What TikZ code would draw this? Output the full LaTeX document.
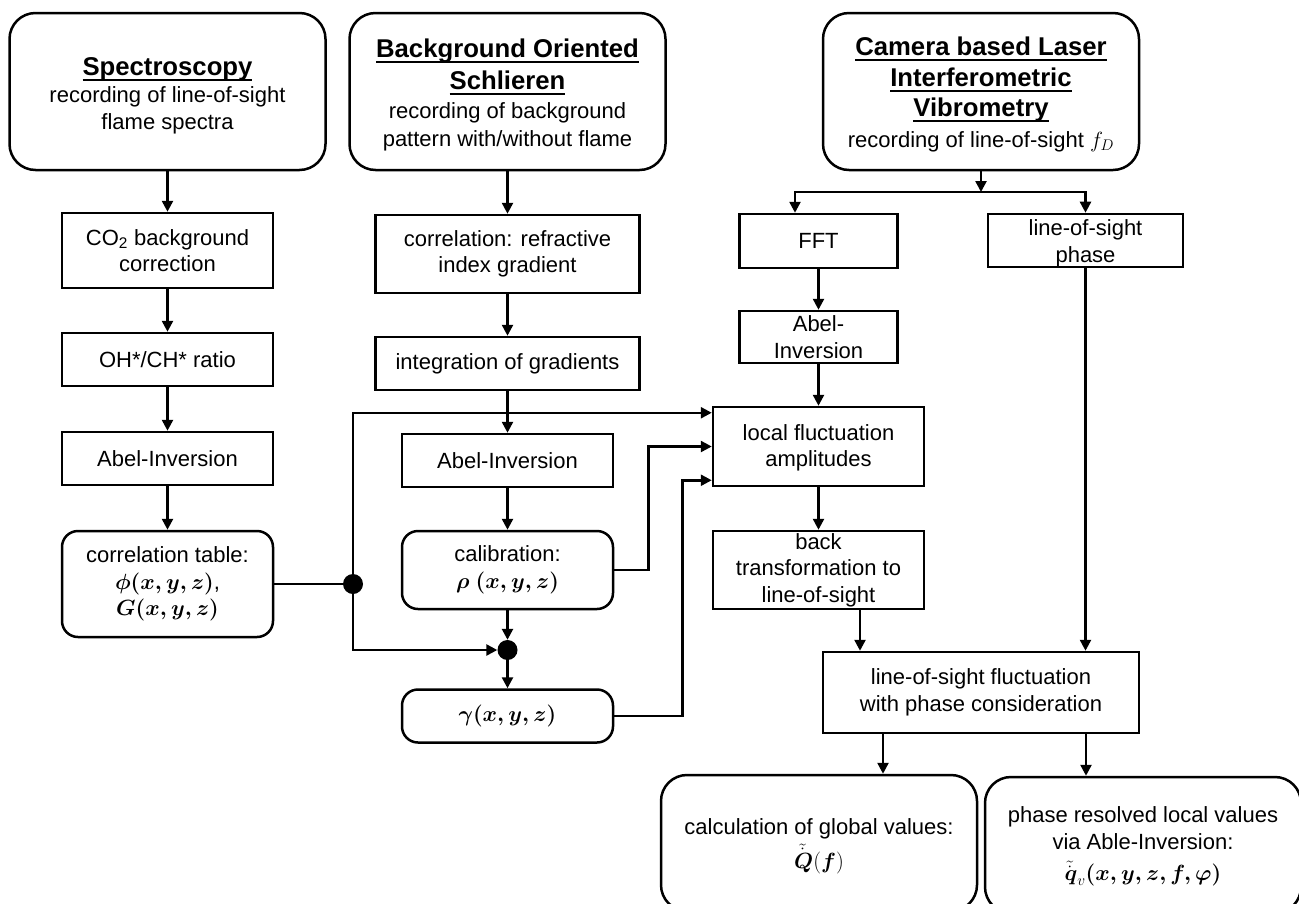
\RequirePackage{fix-cm}
\documentclass[tikz,border=0pt]{standalone}
\usepackage{amsmath}
\usepackage[no-math]{fontspec}
\setmainfont{Liberation Sans}
\usetikzlibrary{arrows.meta,positioning,calc}

\newcommand{\boxtitle}[1]{{\fontsize{25.7}{31}\selectfont\bfseries\setbox0=\hbox{#1}\rlap{\rule[-5.5pt]{\wd0}{2pt}}\box0}}
\newcommand{\lift}[1]{\rule{0pt}{#1}}

\begin{document}
\begin{tikzpicture}[x=1pt,y=-1pt,
  >={Triangle[length=11pt,width=11pt]},
  every node/.style={font=\fontsize{22}{26.5}\selectfont, align=center, inner sep=0pt},
  stepbox/.style={draw, line width=2.5pt, minimum width=211pt, minimum height=53pt},
  roundbox/.style={stepbox, rounded corners=16pt},
  topbox/.style={draw, line width=2.5pt, rounded corners=26pt, minimum width=316pt, minimum height=157pt},
  joint/.style={circle, fill, minimum size=20pt},
  line/.style={line width=2.5pt}]
\useasboundingbox (0,0) rectangle (1299,903);
\clip (0,0) rectangle (1299,903);

% measurement methods
\node[topbox] (spec) at (167.5,91.5) {\lift{26pt}\boxtitle{Spectroscopy}\\[1pt] recording of line-of-sight\\ flame spectra};
\node[topbox] (bos) at (507.5,91.5) {\lift{26pt}\boxtitle{Background Oriented}\\[5pt] \boxtitle{Schlieren}\\[3pt] recording of background\\[1pt] pattern with/without flame};
\node[topbox] (cliv) at (981,91.5) {\lift{25pt}\boxtitle{Camera based Laser}\\[4pt] \boxtitle{Interferometric}\\[4pt] \boxtitle{Vibrometry}\\[4pt] recording of line-of-sight $f_D$};

% spectroscopy chain
\node[stepbox, minimum height=75pt] (co2) at (167.5,250.5) {CO\textsubscript{2} background\\ correction};
\node[stepbox] (ratio) at (167.5,359.5) {OH*/CH* ratio};
\node[stepbox] (abelA) at (167.5,458.5) {Abel-Inversion};
\node[roundbox, minimum height=106pt] (table) at (167.5,584) {correlation table:\\ $\boldsymbol{\phi(x,y,z)}$,\\ $\boldsymbol{G(x,y,z)}$};
\node[joint] (branch) at (353,584) {};

% BOS chain
\node[stepbox, minimum width=264pt, minimum height=78pt] (gradient) at (507.5,254) {correlation: refractive\\ index gradient};
\node[stepbox, minimum width=264pt] (integ) at (507.5,363.5) {integration of gradients};
\node[stepbox] (abelB) at (507.5,460.5) {Abel-Inversion};
\node[roundbox, minimum height=78pt] (calib) at (507.5,570) {calibration:\\ $\boldsymbol{\rho}\ \boldsymbol{(x,y,z)}$};
\node[joint] (mix) at (507.5,650) {};
\node[roundbox] (gamma) at (507.5,716) {$\boldsymbol{\gamma(x,y,z)}$};

% vibrometry chain
\coordinate (split) at (981,192);
\node[stepbox, minimum width=158pt, minimum height=54pt] (fft) at (818.5,241) {FFT};
\node[stepbox, minimum width=195pt] (phase) at (1085.5,240.5) {\lift{22pt}line-of-sight\\ phase};
\node[stepbox, minimum width=158pt, minimum height=52pt] (abelC) at (818.5,337) {Abel-\\ Inversion};
\node[stepbox, minimum height=79pt] (amp) at (818.5,446.5) {\lift{19pt}local fluctuation\\ amplitudes};
\node[stepbox, minimum height=78pt] (back) at (818.5,570) {back\\ transformation to\\ line-of-sight};
\node[stepbox, minimum width=316pt, minimum height=81pt] (losfl) at (981,692.5) {line-of-sight fluctuation\\ with phase consideration};
\node[topbox, minimum height=136pt] (glob) at (819,843) {\lift{22pt}calculation of global values:\\[4pt] $\tilde{\dot{\boldsymbol{Q}}}(\boldsymbol{f})$};
\node[topbox, minimum height=136pt] (loc) at (1143,845) {\lift{19pt}phase resolved local values\\ via Able-Inversion:\\[5pt] $\tilde{\dot{\boldsymbol{q}}}_{v}\boldsymbol{(x,y,z,f,\varphi)}$};

% connectors
\draw[line,->] (spec) -- (co2);
\draw[line,->] (co2) -- (ratio);
\draw[line,->] (ratio) -- (abelA);
\draw[line,->] (abelA) -- (table);
\draw[line] (table) -- (branch);
\draw[line,->] (branch) |- ([yshift=-7pt]amp.north west);
\draw[line,->] (branch) |- (mix);

\draw[line,->] (bos) -- (gradient);
\draw[line,->] (gradient) -- (integ);
\draw[line,->] (integ) -- (abelB);
\draw[line,->] (abelB) -- (calib);
\draw[line,->] (calib) -- (mix);
\draw[line,->] (mix) -- (gamma);
\draw[line,->] (calib.east) -- ++(34,0) |- (amp.west);
\draw[line,->] (gamma.east) -- ++(68,0) |- ([yshift=7pt]amp.south west);

\draw[line,->] (cliv) -- (split);
\draw[line,->] (split) -| ([xshift=-23.5pt]fft.north);
\draw[line,->] (split) -| (phase);
\draw[line,->] (fft) -- (abelC);
\draw[line,->] (abelC) -- (amp);
\draw[line,->] (amp) -- (back);
\coordinate (bk) at ([xshift=41.5pt]back.south);
\draw[line,->] (bk) -- (bk |- losfl.north);
\draw[line,->] (phase) -- (phase |- losfl.north);
\coordinate (lo1) at ([xshift=-98pt]losfl.south);
\coordinate (lo2) at ([xshift=105pt]losfl.south);
\draw[line,->] (lo1) -- (lo1 |- glob.north);
\draw[line,->] (lo2) -- (lo2 |- loc.north);
\end{tikzpicture}
\end{document}
